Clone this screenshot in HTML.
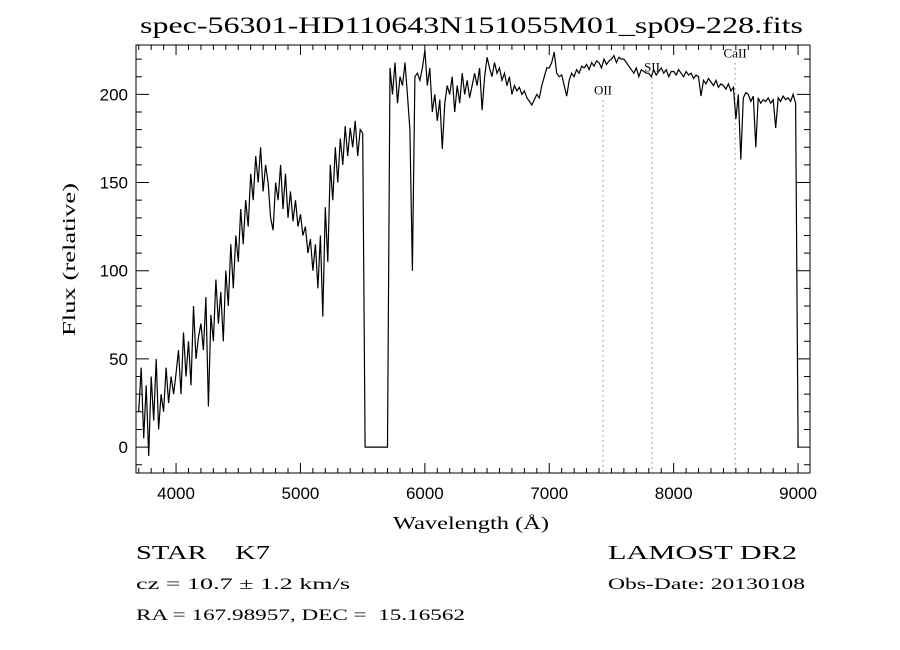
<!DOCTYPE html>
<html><head><meta charset="utf-8"><style>
body{margin:0;background:#fff;}
svg{display:block;font-family:"Liberation Serif",serif;}
text{white-space:pre;}
</style></head><body>
<svg id="chart" width="900" height="650">
<text x="140" y="33" font-size="23" textLength="663" lengthAdjust="spacingAndGlyphs">spec-56301-HD110643N151055M01_sp09-228.fits</text>
<text x="393" y="529" font-size="18" textLength="156" lengthAdjust="spacingAndGlyphs">Wavelength (Å)</text>
<text transform="translate(75,336) rotate(-90)" font-size="18" textLength="153" lengthAdjust="spacingAndGlyphs">Flux (relative)</text>
<text x="136" y="559" font-size="20" textLength="134" lengthAdjust="spacingAndGlyphs">STAR    K7</text>
<text x="136" y="589" font-size="16" textLength="214" lengthAdjust="spacingAndGlyphs">cz = 10.7 ± 1.2 km/s</text>
<text x="136" y="620" font-size="16" textLength="329" lengthAdjust="spacingAndGlyphs">RA = 167.98957, DEC =  15.16562</text>
<text x="608" y="559" font-size="20" textLength="189" lengthAdjust="spacingAndGlyphs">LAMOST DR2</text>
<text x="608" y="589" font-size="16" textLength="197" lengthAdjust="spacingAndGlyphs">Obs-Date: 20130108</text>
<g id="ticks"></g>
<g id="lines"></g>
<rect x="136" y="45" width="674" height="428" fill="none" stroke="#000" stroke-width="1"/>
</svg>
<script>
const startWave = 3700;
const waveStep = 20;
const flux = [
20,45,5,35,-5,40,15,50,10,30,20,45,25,40,30,
42,55,30,65,40,60,35,80,50,62,
70,55,85,23,75,60,95,70,88,60,
100,80,115,90,120,105,135,115,140,125,
155,140,165,150,170,145,160,150,130,123,
150,140,160,135,155,130,145,128,140,125,
132,120,125,110,118,100,115,90,120,74,
136,105,160,140,170,150,175,160,182,165,
181,170,185,165,180,178,
0,0,0,0,0,0,0,0,0,0,
215,200,218,195,210,205,218,200,180,100,210,212,208,215,
225,205,215,190,200,185,197,169,195,205,
200,210,190,205,195,212,200,208,198,205,
212,205,215,191,210,221,215,210,218,212,
215,208,212,205,210,200,205,202,204,200,
202,198,196,194,197,200,198,205,210,215,
215,218,224,212,210,211,205,199,208,212,
210,214,212,216,215,217,214,218,216,219,
218,215,220,217,219,220,222,218,221,220,
220,218,216,214,212,215,210,214,213,212,
212,210,214,211,213,215,212,214,210,213,
213,211,214,212,210,213,211,212,209,211,
210,199,208,206,209,207,205,208,204,206,
205,203,206,202,204,186,200,163,198,201,
200,196,199,170,198,195,197,196,198,195,
197,181,198,196,199,197,198,196,200,195,
0];
const xTickLabels = [4000,5000,6000,7000,8000,9000];
const yTickLabels = [0,50,100,150,200];
const lineNames = ["OII","SII","CaII"];
const lineWaves = [7432,7826,8494];
const lineLabelFlux = [200,213,221];

const X0=136,X1=810,Y0=45,Y1=473;
const xmin=3678,xmax=9096,ymin=-14.7,ymax=228;
const xs=w=>X0+(w-xmin)/(xmax-xmin)*(X1-X0);
const ys=f=>Y1-(f-ymin)/(ymax-ymin)*(Y1-Y0);
const NS="http://www.w3.org/2000/svg";
const svg=document.getElementById('chart');
const tg=document.getElementById('ticks');
const lg=document.getElementById('lines');
function mk(tag,attrs,parent){const e=document.createElementNS(NS,tag);for(const k in attrs)e.setAttribute(k,attrs[k]);parent.appendChild(e);return e;}

let d='';
for(let i=0;i<flux.length;i++){const w=startWave+i*waveStep;d+=(i?'L':'M')+xs(w).toFixed(1)+','+ys(flux[i]).toFixed(1);}
const p=mk('path',{d:d,fill:'none',stroke:'#000','stroke-width':1.2},svg);



for(let w=3700;w<=9000;w+=100){
  const major=w%1000===0;const L=major?10:5;const x=xs(w);
  const t=mk('path',{d:`M${x},${Y1}v${-L}M${x},${Y0}v${L}`,stroke:'#000','stroke-width':1},tg);
  
  
}
xTickLabels.forEach(v=>{
  const t=mk('text',{x:xs(v),y:Y1+26,'font-size':17,'text-anchor':'middle','font-family':'Liberation Sans, sans-serif'},svg);
  t.textContent=v;
  
  
});
for(let v=-10;v<=220;v+=10){
  const major=v%50===0;const L=major?13:6;const y=ys(v);
  const t=mk('path',{d:`M${X0},${y}h${L}M${X1},${y}h${-L}`,stroke:'#000','stroke-width':1},tg);
  
  
}
yTickLabels.forEach(v=>{
  const t=mk('text',{x:128,y:ys(v)+6,'font-size':17,'text-anchor':'end','font-family':'Liberation Sans, sans-serif'},svg);
  t.textContent=v;
  
  
});
lineWaves.forEach((w,i)=>{
  const x=xs(w);
  const l=mk('line',{x1:x,x2:x,y1:ys(lineLabelFlux[i])+6,y2:Y1,stroke:'#7a3030','stroke-width':1,'stroke-dasharray':'1,4'},lg);
  
  
  const t=mk('text',{x:x,y:ys(lineLabelFlux[i]),'font-size':13,'text-anchor':'middle'},lg);
  t.textContent=lineNames[i];
  
  
});
</script>
</body></html>
